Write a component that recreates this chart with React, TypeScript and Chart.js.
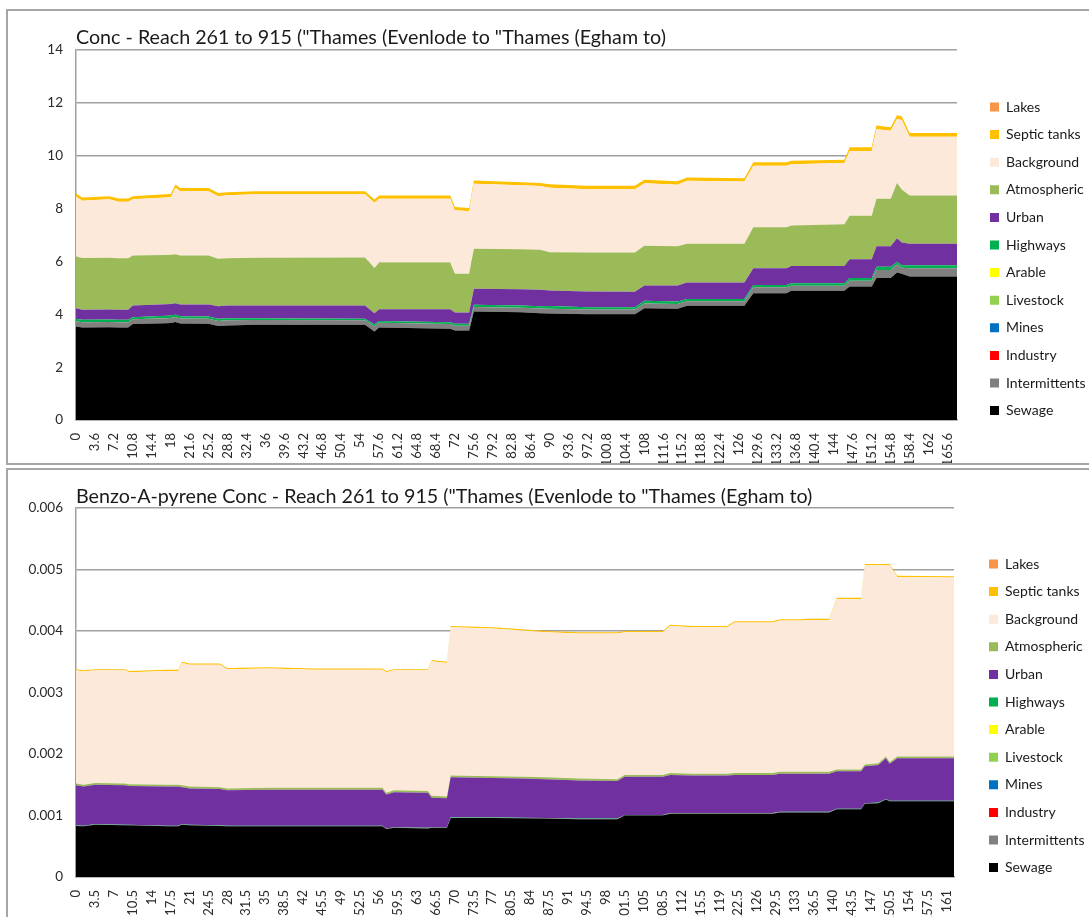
import { useEffect, useRef } from 'react';
import { Chart, registerables } from 'chart.js';

Chart.register(...registerables);

const FONT = 'Lato, "Open Sans", sans-serif';

// Source categories, bottom of the stack first
const SERIES_NAMES = [
  'Sewage', 'Intermittents', 'Industry', 'Mines', 'Livestock', 'Arable',
  'Highways', 'Urban', 'Atmospheric', 'Background', 'Septic tanks', 'Lakes',
];
const SERIES_COLORS = [
  '#000000', '#808080', '#FF0000', '#0070C0', '#92D050', '#FFFF00',
  '#00B050', '#7030A0', '#9BBB59', '#FDE9D9', '#FFC000', '#F79646',
];

// ---------- Conc (upper chart) ----------
const TITLE_1 = 'Conc - Reach 261 to 915 ("Thames (Evenlode to "Thames (Egham to)';
const DIST_1 = [
  0, 1.2, 6.3, 8.1, 9.9, 10.8, 17.1, 18.0, 18.9, 19.8, 25.2, 27.0, 28.8, 34.2,
  54.9, 56.7, 57.6, 71.1, 72.0, 74.7, 75.6, 84.6, 88.2, 90.0, 97.2, 106.2, 108.0, 114.3,
  116.1, 127.0, 128.7, 135.0, 135.9, 146.0, 147.0, 151.2, 152.1, 154.8, 156.0, 156.9, 158.4, 167.4,
];
const SEWAGE_1 = [
  3.54, 3.50, 3.51, 3.50, 3.50, 3.63, 3.66, 3.67, 3.71, 3.65, 3.64, 3.56, 3.58, 3.60,
  3.60, 3.35, 3.50, 3.45, 3.39, 3.39, 4.11, 4.08, 4.04, 4.03, 4.00, 4.00, 4.23, 4.21,
  4.32, 4.32, 4.80, 4.80, 4.89, 4.89, 5.05, 5.05, 5.37, 5.37, 5.58, 5.53, 5.43, 5.43,
];
const INTERMITTENTS_1 = [
  0.20, 0.20, 0.20, 0.20, 0.20, 0.18, 0.19, 0.19, 0.19, 0.19, 0.19, 0.19, 0.19, 0.18,
  0.17, 0.20, 0.18, 0.18, 0.18, 0.18, 0.17, 0.17, 0.18, 0.18, 0.18, 0.18, 0.18, 0.18,
  0.17, 0.17, 0.22, 0.22, 0.19, 0.19, 0.22, 0.22, 0.31, 0.31, 0.30, 0.23, 0.31, 0.31,
];
const NONE_1 = [
  0, 0, 0, 0, 0, 0, 0, 0, 0, 0, 0, 0, 0, 0,
  0, 0, 0, 0, 0, 0, 0, 0, 0, 0, 0, 0, 0, 0,
  0, 0, 0, 0, 0, 0, 0, 0, 0, 0, 0, 0, 0, 0,
];
const HIGHWAYS_1 = [
  0.09, 0.09, 0.09, 0.09, 0.09, 0.08, 0.09, 0.09, 0.09, 0.09, 0.09, 0.08, 0.08, 0.07,
  0.06, 0.07, 0.07, 0.07, 0.07, 0.07, 0.08, 0.08, 0.08, 0.10, 0.09, 0.09, 0.10, 0.09,
  0.09, 0.09, 0.09, 0.09, 0.09, 0.09, 0.10, 0.10, 0.12, 0.12, 0.11, 0.10, 0.12, 0.12,
];
const URBAN_1 = [
  0.40, 0.38, 0.38, 0.38, 0.38, 0.44, 0.44, 0.44, 0.43, 0.44, 0.45, 0.47, 0.48, 0.48,
  0.50, 0.42, 0.44, 0.49, 0.43, 0.43, 0.61, 0.62, 0.63, 0.59, 0.59, 0.58, 0.58, 0.61,
  0.62, 0.62, 0.63, 0.63, 0.66, 0.66, 0.71, 0.71, 0.77, 0.77, 0.89, 0.86, 0.81, 0.81,
];
const ATMOSPHERIC_1 = [
  1.96, 1.96, 1.96, 1.95, 1.95, 1.89, 1.86, 1.86, 1.85, 1.85, 1.85, 1.80, 1.79, 1.81,
  1.82, 1.71, 1.77, 1.77, 1.46, 1.46, 1.51, 1.51, 1.51, 1.45, 1.48, 1.49, 1.50, 1.48,
  1.47, 1.47, 1.55, 1.55, 1.53, 1.58, 1.65, 1.65, 1.80, 1.80, 2.09, 2.00, 1.82, 1.82,
];
const BACKGROUND_1 = [
  2.26, 2.17, 2.21, 2.14, 2.14, 2.13, 2.18, 2.18, 2.52, 2.44, 2.44, 2.37, 2.38, 2.40,
  2.39, 2.47, 2.41, 2.41, 2.41, 2.37, 2.46, 2.42, 2.41, 2.44, 2.39, 2.39, 2.37, 2.33,
  2.38, 2.35, 2.33, 2.33, 2.32, 2.31, 2.45, 2.45, 2.63, 2.57, 2.42, 2.63, 2.23, 2.23,
];
const SEPTIC_1 = [
  0.12, 0.12, 0.12, 0.12, 0.12, 0.12, 0.12, 0.12, 0.12, 0.12, 0.12, 0.12, 0.12, 0.12,
  0.12, 0.12, 0.12, 0.12, 0.12, 0.12, 0.12, 0.12, 0.12, 0.13, 0.13, 0.13, 0.13, 0.13,
  0.13, 0.13, 0.13, 0.13, 0.13, 0.13, 0.14, 0.14, 0.14, 0.14, 0.14, 0.14, 0.14, 0.14,
];
const X_TICKS_1 = [
  '0', '3.6', '7.2', '10.8', '14.4', '18', '21.6', '25.2', '28.8', '32.4', '36', '39.6',
  '43.2', '46.8', '50.4', '54', '57.6', '61.2', '64.8', '68.4', '72', '75.6', '79.2', '82.8',
  '86.4', '90', '93.6', '97.2', '100.8', '104.4', '108', '111.6', '115.2', '118.8', '122.4', '126',
  '129.6', '133.2', '136.8', '140.4', '144', '147.6', '151.2', '154.8', '158.4', '162', '165.6',
];
const Y_TICKS_1 = ['0', '2', '4', '6', '8', '10', '12', '14'];

// ---------- Benzo-A-pyrene Conc (lower chart) ----------
const TITLE_2 = 'Benzo-A-pyrene Conc - Reach 261 to 915 ("Thames (Evenlode to "Thames (Egham to)';
const DIST_2 = [
  0, 1.4, 3.5, 9.1, 9.8, 16.8, 18.9, 19.6, 21.0, 26.6, 28.0, 35.7, 44.1, 56.7, 57.4,
  58.8, 65.1, 65.8, 68.6, 69.3, 77.0, 82.6, 86.8, 93.1, 100.1, 101.5, 108.5, 109.9, 114.1,
  120.4, 121.8, 128.8, 130.2, 134.4, 135.1, 139.3, 140.7, 145.2, 145.9, 148.4, 149.8, 150.5, 151.9, 162.4,
];
const SEWAGE_2 = [
  0.00083, 0.000825, 0.00085, 0.00084, 0.00084, 0.000825, 0.000825, 0.00085, 0.00084, 0.00083, 0.000825,
  0.000825, 0.000825, 0.000825, 0.00078, 0.0008, 0.00079, 0.0008, 0.0008, 0.00096, 0.00096, 0.000955,
  0.00095, 0.00094, 0.00094, 0.001, 0.001, 0.00103, 0.00103, 0.00103, 0.00103, 0.00103, 0.00105,
  0.00105, 0.00105, 0.00105, 0.0011, 0.0011, 0.00119, 0.0012, 0.00126, 0.00123, 0.00123, 0.00123,
];
const INTERMITTENTS_2 = [
  0.000005, 0.000005, 0.000005, 0.000005, 0.000005, 0.000005, 0.000005, 0.000005, 0.000005, 0.000005, 0.000005,
  0.000005, 0.000005, 0.000005, 0.000005, 0.000005, 0.000005, 0.000005, 0.000005, 0.000005, 0.000005, 0.000005,
  0.000005, 0.000005, 0.000005, 0.000005, 0.000005, 0.000005, 0.000005, 0.000005, 0.000005, 0.000005, 0.000005,
  0.000005, 0.000005, 0.000005, 0.000005, 0.000005, 0.000005, 0.000005, 0.000005, 0.000005, 0.000005, 0.000005,
];
const NONE_2 = [
  0, 0, 0, 0, 0, 0, 0, 0, 0, 0, 0,
  0, 0, 0, 0, 0, 0, 0, 0, 0, 0, 0,
  0, 0, 0, 0, 0, 0, 0, 0, 0, 0, 0,
  0, 0, 0, 0, 0, 0, 0, 0, 0, 0, 0,
];
const HIGHWAYS_2 = [
  0.000005, 0.000005, 0.000005, 0.000005, 0.000005, 0.000005, 0.000005, 0.000005, 0.000005, 0.000005, 0.000005,
  0.000005, 0.000005, 0.000005, 0.000005, 0.000005, 0.000005, 0.000005, 0.000005, 0.000005, 0.000005, 0.000005,
  0.000005, 0.000005, 0.000005, 0.000005, 0.000005, 0.000005, 0.000005, 0.000005, 0.000005, 0.000005, 0.000005,
  0.000005, 0.000005, 0.000005, 0.000005, 0.000005, 0.000005, 0.000005, 0.000005, 0.000005, 0.000005, 0.000005,
];
const URBAN_2 = [
  0.00065, 0.000635, 0.00064, 0.00064, 0.00063, 0.000635, 0.000635, 0.0006, 0.00059, 0.00059, 0.000575,
  0.000585, 0.000585, 0.000585, 0.00055, 0.00057, 0.00057, 0.00048, 0.00047, 0.00065, 0.00064, 0.000635,
  0.00063, 0.00062, 0.00061, 0.00062, 0.00062, 0.00062, 0.00061, 0.00061, 0.00062, 0.00062, 0.00062,
  0.00062, 0.00062, 0.00062, 0.00061, 0.00061, 0.0006, 0.00061, 0.00066, 0.0006, 0.00069, 0.00069,
];
const ATMOSPHERIC_2 = [
  0.00003, 0.00003, 0.00003, 0.00003, 0.00003, 0.00003, 0.00003, 0.00003, 0.00003, 0.00003, 0.00003,
  0.00003, 0.00003, 0.00003, 0.00003, 0.00003, 0.00003, 0.00003, 0.00003, 0.00003, 0.00003, 0.00003,
  0.00003, 0.00003, 0.00003, 0.00003, 0.00003, 0.00003, 0.00003, 0.00003, 0.00003, 0.00003, 0.00003,
  0.00003, 0.00003, 0.00003, 0.00003, 0.00003, 0.00003, 0.00003, 0.00003, 0.00003, 0.00003, 0.00003,
];
const BACKGROUND_2 = [
  0.00184, 0.00184, 0.00183, 0.00184, 0.00182, 0.00185, 0.00185, 0.00199, 0.00198, 0.00199, 0.00194,
  0.00194, 0.00192, 0.00192, 0.00196, 0.00195, 0.00196, 0.00219, 0.00217, 0.00241, 0.0024, 0.00238,
  0.00236, 0.00236, 0.00237, 0.00232, 0.00232, 0.00239, 0.00238, 0.00238, 0.00245, 0.00245, 0.00246,
  0.00246, 0.00247, 0.00247, 0.00277, 0.00277, 0.00324, 0.00322, 0.00311, 0.0032, 0.00292, 0.00291,
];
const SEPTIC_2 = [
  0.00002, 0.00002, 0.00002, 0.00002, 0.00002, 0.00002, 0.00002, 0.00002, 0.00002, 0.00002, 0.00002,
  0.00002, 0.00002, 0.00002, 0.00002, 0.00002, 0.00002, 0.00002, 0.00002, 0.00002, 0.00002, 0.00002,
  0.00002, 0.00002, 0.00002, 0.00002, 0.00002, 0.00002, 0.00002, 0.00002, 0.00002, 0.00002, 0.00002,
  0.00002, 0.00002, 0.00002, 0.00002, 0.00002, 0.00002, 0.00002, 0.00002, 0.00002, 0.00002, 0.00002,
];
const X_TICKS_2 = [
  '0', '3.5', '7', '10.5', '14', '17.5', '21', '24.5', '28', '31.5', '35', '38.5',
  '42', '45.5', '49', '52.5', '56', '59.5', '63', '66.5', '70', '73.5', '77', '80.5',
  '84', '87.5', '91', '94.5', '98', '101.5', '105', '108.5', '112', '115.5', '119', '122.5',
  '126', '129.5', '133', '136.5', '140', '143.5', '147', '150.5', '154', '157.5', '161',
];
const Y_TICKS_2 = ['0', '0.001', '0.002', '0.003', '0.004', '0.005', '0.006'];

type PanelProps = {
  title: string;
  dist: number[];
  series: number[][];
  xMax: number;
  xTicks: string[];
  yMax: number;
  yTicks: string[];
  width: number;
  height: number;
  plotLeft: number;
  plotRight: number;
  plotTop: number;
  plotBottom: number;
  titleCenter: number;
  legendX: number;
  legendY: number;
};

const LEGEND_FONT = 14;
const LEGEND_PAD = 13.6;
const TITLE_FONT = 19.7;
const GRID = '#a0a0a0';

function StackedAreaPanel(p: PanelProps) {
  const ref = useRef<HTMLCanvasElement>(null);

  useEffect(() => {
    const canvas = ref.current;
    if (!canvas) return;

    // Puts the legend column beside the plot, at a fixed spot
    const placeLegend = {
      id: 'placeLegend',
      afterLayout(chart: any) {
        const lg = chart.legend;
        if (!lg) return;
        const w = lg.width;
        const h = lg.height;
        lg.left = p.legendX - LEGEND_PAD;
        lg.right = lg.left + w;
        lg.top = p.legendY - LEGEND_PAD - LEGEND_FONT / 2;
        lg.bottom = lg.top + h;
      },
    };

    const titleLine = TITLE_FONT * 1.2;
    const chart = new Chart(canvas, {
      type: 'line',
      data: {
        labels: p.dist,
        datasets: p.series.map((vals, i) => ({
          label: SERIES_NAMES[i],
          data: vals,
          backgroundColor: SERIES_COLORS[i],
          borderColor: 'rgba(0,0,0,0)',
          borderWidth: 0,
          pointRadius: 0,
          pointHoverRadius: 0,
          tension: 0,
          fill: i === 0 ? 'origin' : '-1',
        })),
      },
      options: {
        responsive: false,
        animation: false,
        events: [],
        layout: { padding: { left: 0, top: 0, bottom: 0, right: p.width - p.plotRight } },
        plugins: {
          legend: {
            position: 'chartArea',
            align: 'start',
            reverse: true,
            labels: {
              boxWidth: 9,
              boxHeight: 9,
              padding: LEGEND_PAD,
              color: '#1a1a1a',
              font: { family: FONT, size: LEGEND_FONT },
            },
          },
          title: {
            display: true,
            text: p.title,
            align: 'start',
            fullSize: false,
            color: '#1a1a1a',
            font: { family: FONT, size: TITLE_FONT, weight: 'normal', lineHeight: 1.2 },
            padding: {
              top: p.titleCenter - titleLine / 2,
              bottom: p.plotTop - p.titleCenter - titleLine / 2,
            },
          },
          tooltip: { enabled: false },
        },
        scales: {
          x: {
            type: 'linear',
            min: 0,
            max: p.xMax,
            grid: { display: false },
            border: { display: true, color: GRID, width: 1.5 },
            afterBuildTicks: (s: any) => {
              s.ticks = p.xTicks.map((t) => ({ value: Number(t) }));
            },
            afterFit: (s: any) => {
              s.height = p.height - p.plotBottom;
            },
            ticks: {
              autoSkip: false,
              minRotation: 90,
              maxRotation: 90,
              padding: 5,
              color: '#2a2a2a',
              font: { family: FONT, size: 13 },
              callback: (_v: any, i: number) => p.xTicks[i],
            },
          },
          y: {
            stacked: true,
            min: 0,
            max: p.yMax,
            grid: { color: GRID, lineWidth: 1.5, drawTicks: false },
            border: { display: true, color: GRID, width: 1.5 },
            afterBuildTicks: (s: any) => {
              s.ticks = p.yTicks.map((t) => ({ value: Number(t) }));
            },
            afterFit: (s: any) => {
              s.width = p.plotLeft;
            },
            ticks: {
              padding: 13,
              color: '#2a2a2a',
              font: { family: FONT, size: 13.5 },
              callback: (_v: any, i: number) => p.yTicks[i],
            },
          },
        },
      },
      plugins: [placeLegend],
    } as any);

    return () => chart.destroy();
  }, []);

  return <canvas ref={ref} width={p.width} height={p.height} style={{ display: 'block' }} />;
}

const boxStyle = (top: number, height: number): React.CSSProperties => ({
  position: 'absolute',
  left: 6,
  top,
  width: 1120,
  height,
  boxSizing: 'border-box',
  border: '2px solid #a6a6a6',
  background: '#fff',
});

export default function App() {
  return (
    <div
      style={{
        position: 'absolute',
        left: 0,
        top: 0,
        width: 1089,
        height: 917,
        overflow: 'hidden',
        background: '#fff',
      }}
    >
      <div style={boxStyle(9, 456)} />
      <div style={boxStyle(468, 470)} />
      <div style={{ position: 'absolute', left: 9, top: 12 }}>
        <StackedAreaPanel
          title={TITLE_1}
          dist={DIST_1}
          series={[
            SEWAGE_1, INTERMITTENTS_1, NONE_1, NONE_1, NONE_1, NONE_1,
            HIGHWAYS_1, URBAN_1, ATMOSPHERIC_1, BACKGROUND_1, SEPTIC_1, NONE_1,
          ]}
          xMax={167.4}
          xTicks={X_TICKS_1}
          yMax={14}
          yTicks={Y_TICKS_1}
          width={1080}
          height={451}
          plotLeft={67}
          plotRight={948}
          plotTop={38}
          plotBottom={408}
          titleCenter={26}
          legendX={981}
          legendY={95}
        />
      </div>
      <div style={{ position: 'absolute', left: 9, top: 470 }}>
        <StackedAreaPanel
          title={TITLE_2}
          dist={DIST_2}
          series={[
            SEWAGE_2, INTERMITTENTS_2, NONE_2, NONE_2, NONE_2, NONE_2,
            HIGHWAYS_2, URBAN_2, ATMOSPHERIC_2, BACKGROUND_2, SEPTIC_2, NONE_2,
          ]}
          xMax={162.4}
          xTicks={X_TICKS_2}
          yMax={0.006}
          yTicks={Y_TICKS_2}
          width={1080}
          height={447}
          plotLeft={67}
          plotRight={945}
          plotTop={38}
          plotBottom={407}
          titleCenter={27}
          legendX={980}
          legendY={94}
        />
      </div>
    </div>
  );
}
